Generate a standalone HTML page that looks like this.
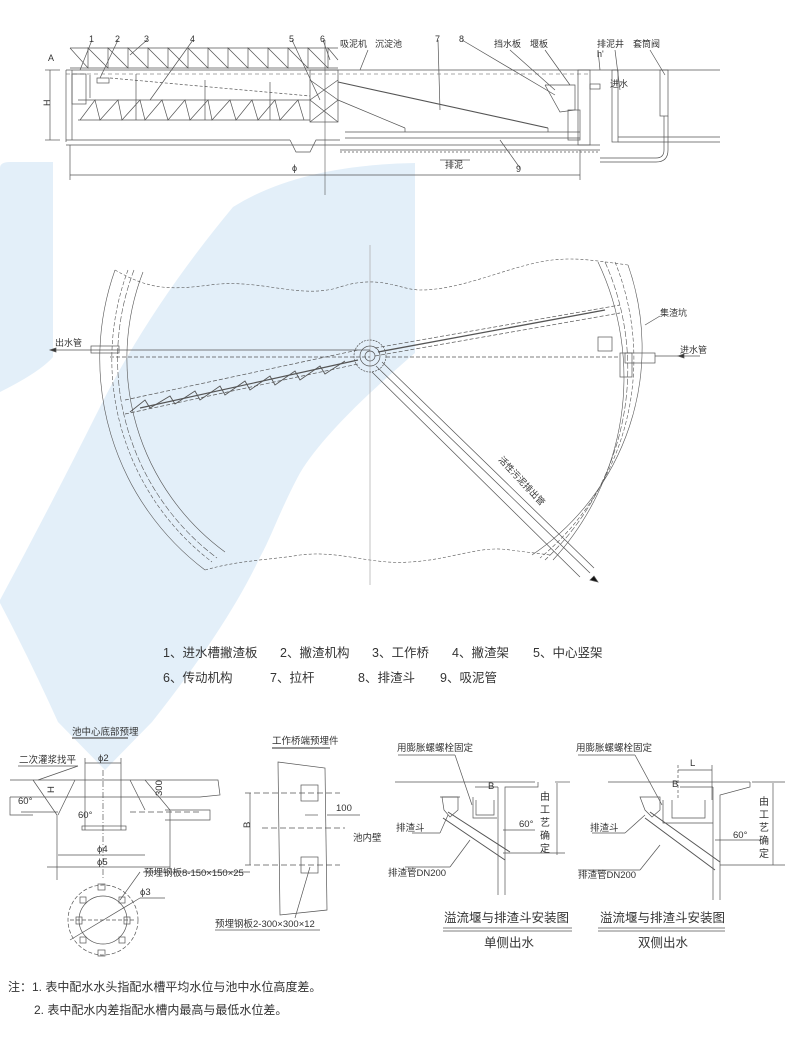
<!DOCTYPE html>
<html><head><meta charset="utf-8"><style>
html,body{margin:0;padding:0;background:#fff;}
svg{display:block;}
text{font-family:"Liberation Sans","Noto Sans CJK SC",sans-serif;fill:#333;}
</style></head><body>
<svg width="800" height="1039" viewBox="0 0 800 1039" xmlns="http://www.w3.org/2000/svg">
<!-- blue background shapes -->
<g fill="#e3eff9">
<path d="M0,168 Q0,162 10,162 L53,162 L53,357 Q40,372 0,392 Z"/>
<path d="M415,163 L415,353 C360,400 320,440 300,473 C280,510 270,540 260,557 C240,600 205,655 152,722 L105,770 L58,722 Q30,660 0,603 L0,600 Q50,507 100,407 Q150,307 233,207 Q300,165 415,163 Z"/>
</g>

<g stroke="#555" fill="none" stroke-width="0.7">
<!-- ===== TOP SECTION ===== -->
<line x1="70" y1="48" x2="338" y2="48"/>
<line x1="70" y1="68" x2="338" y2="68"/>
<path d="M70,48 L88,68 L88,48 L108,68 L108,48 L128,68 L128,48 L148,68 L148,48 L168,68 L168,48 L188,68 L188,48 L208,68 L208,48 L228,68 L228,48 L248,68 L248,48 L268,68 L268,48 L288,68 L288,48 L308,68 L308,48 L328,68 L328,48 L338,60"/>
<line x1="66" y1="70" x2="720" y2="70"/>
<line x1="66" y1="74" x2="590" y2="74" stroke-dasharray="4 3" stroke-width="0.5"/>
<line x1="72" y1="70" x2="72" y2="140"/>
<line x1="66" y1="70" x2="66" y2="142"/>
<line x1="66" y1="140" x2="290" y2="140"/>
<line x1="66" y1="145" x2="600" y2="145"/>
<path d="M290,140 L296,152 L310,152 L316,140 L340,140"/>
<line x1="340" y1="150" x2="600" y2="150"/>
<line x1="340" y1="152" x2="600" y2="152" stroke-dasharray="2 2"/>
<rect x="310" y="70" width="28" height="52"/>
<path d="M310,80 L338,100 L310,122 M338,80 L310,100 L338,122"/>
<line x1="78" y1="100" x2="310" y2="100"/>
<line x1="78" y1="120" x2="310" y2="120"/>
<path d="M80,120 L95,100 L100,120 L118,100 L122,120 L140,100 L145,120 L162,100 L168,120 L185,100 L190,120 L208,100 L212,120 L230,100 L236,120 L252,100 L258,120 L275,100 L280,120 L298,100 L304,120"/>
<line x1="110" y1="78" x2="310" y2="96" stroke-dasharray="3 2"/>
<line x1="90" y1="75" x2="90" y2="98"/>
<line x1="136" y1="74" x2="136" y2="120"/>
<line x1="205" y1="80" x2="205" y2="120"/>
<line x1="270" y1="82" x2="270" y2="120"/>
<rect x="72" y="74" width="14" height="30"/>
<rect x="97" y="78" width="12" height="5"/>
<line x1="338" y1="82" x2="548" y2="128" stroke-width="1.1"/>
<line x1="338" y1="100" x2="405" y2="128"/>
<line x1="345" y1="132" x2="580" y2="132"/>
<line x1="345" y1="138" x2="580" y2="138"/>
<line x1="405" y1="128" x2="405" y2="132"/>
<line x1="548" y1="128" x2="548" y2="132"/>
<rect x="578" y="70" width="12" height="75"/>
<path d="M545,85 L575,85 L575,110 L560,112 L545,85"/>
<rect x="568" y="110" width="12" height="30"/>
<rect x="590" y="84" width="10" height="5"/>
<rect x="612" y="70" width="6" height="72"/>
<line x1="618" y1="137" x2="720" y2="137"/>
<line x1="618" y1="142" x2="720" y2="142"/>
<rect x="660" y="70" width="8" height="46"/>
<path d="M664,116 L664,150 Q664,158 656,158 L600,158" />
<path d="M668,116 L668,150 Q668,162 656,162 L600,162"/>
<line x1="70" y1="175" x2="580" y2="175"/>
<line x1="70" y1="145" x2="70" y2="180"/>
<line x1="580" y1="150" x2="580" y2="180"/>
<line x1="325" y1="40" x2="325" y2="195" stroke-width="0.6"/>
<line x1="50" y1="70" x2="50" y2="140"/>
<line x1="45" y1="70" x2="60" y2="70"/>
<line x1="45" y1="140" x2="60" y2="140"/>
<line x1="440" y1="160" x2="470" y2="160"/>
<path d="M92,40 L80,70 M118,40 L100,78 M147,40 L130,55 M193,40 L150,100 M292,40 L320,100 M323,40 L330,60 M368,50 L360,70 M438,40 L440,110 M462,40 L555,95 M510,50 L555,90 M545,50 L570,85 M598,50 L600,70 M615,50 L620,90 M650,50 L665,75 M500,140 L520,168"/>

<!-- ===== PLAN VIEW ===== -->
<g stroke-width="0.6">
<path d="M115,270 A265,265 0 0,0 205,570" />
<path d="M128,270 A255,255 0 0,0 212,562" stroke-dasharray="4 2"/>
<path d="M134,270 A249,249 0 0,0 217,558" stroke-dasharray="6 2"/>
<path d="M143,272 A240,240 0 0,0 225,552"/>
<path d="M598,262 A270,270 0 0,1 553,560"/>
<path d="M605,262 A262,262 0 0,1 545,560" stroke-dasharray="6 2"/>
<path d="M615,262 A258,258 0 0,1 540,558" stroke-dasharray="4 2"/>
<path d="M628,265 A250,250 0 0,1 532,555"/>
<path d="M115,270 C150,290 170,290 210,285 C260,278 300,300 340,287 C380,274 400,290 420,290 C460,290 500,270 540,262 C570,256 590,260 628,265" stroke-dasharray="3 2"/>
<path d="M205,570 C240,560 270,560 300,555 C340,550 370,565 410,562 C450,560 480,545 510,550 L550,555" stroke-dasharray="3 2"/>
</g>
<line x1="370" y1="245" x2="370" y2="585" stroke="#aaa"/>
<circle cx="370" cy="356" r="16" stroke-dasharray="2 1"/>
<circle cx="370" cy="356" r="10"/>
<circle cx="370" cy="356" r="5"/>
<line x1="50" y1="350" x2="370" y2="350"/>
<line x1="110" y1="357" x2="370" y2="357" stroke-dasharray="4 2"/>
<rect x="91" y="346" width="28" height="7"/>
<path d="M50,350 l6,-2 l0,4 z" fill="#333"/>
<line x1="125" y1="400" x2="358" y2="350" stroke-dasharray="4 2"/>
<line x1="125" y1="414" x2="358" y2="364" stroke-dasharray="4 2"/>
<path d="M130,412 L145,400 L150,408 L170,396 L175,404 L195,391 L200,400 L220,386 L225,395 L245,381 L250,390 L270,376 L275,385 L295,371 L300,380 L320,366 L325,374 L345,361" stroke-width="0.9"/>
<line x1="140" y1="408" x2="358" y2="360" stroke-width="1.2"/>
<line x1="375" y1="348" x2="620" y2="305" stroke-dasharray="4 2"/>
<line x1="375" y1="356" x2="620" y2="313" stroke-dasharray="4 2"/>
<line x1="378" y1="352" x2="605" y2="310" stroke-width="1.3"/>
<line x1="386" y1="357" x2="620" y2="357" stroke-dasharray="4 2"/>
<rect x="598" y="337" width="14" height="14"/>
<rect x="625" y="353" width="30" height="10"/>
<rect x="620" y="353" width="12" height="24"/>
<line x1="655" y1="356" x2="700" y2="356"/>
<path d="M678,356 l6,-2 l0,4 z" fill="#333"/>
<path d="M645,325 L660,316"/>
<line x1="376" y1="366" x2="590" y2="573"/>
<line x1="382" y1="362" x2="594" y2="568"/>
<line x1="372" y1="372" x2="580" y2="577"/>
<path d="M598,582 l-8,-2 l4,-4 z" fill="#111"/>

<!-- ===== BOTTOM LEFT DETAIL ===== -->
<line x1="72" y1="738" x2="128" y2="738" stroke-width="1.2"/>
<line x1="18" y1="766" x2="78" y2="766"/>
<line x1="78" y1="766" x2="38" y2="780"/>
<path d="M10,780 L218,780 L220,795 L200,797 L10,797"/>
<path d="M10,797 L10,815 L33,815 M165,810 L210,810 L210,820 L165,820"/>
<path d="M33,780 L57,815 L57,880 M75,780 L58,815 M145,780 L170,810 L170,870 M130,780 L145,810"/>
<line x1="85" y1="763" x2="121" y2="763"/>
<line x1="85" y1="758" x2="85" y2="830"/>
<line x1="121" y1="758" x2="121" y2="830"/>
<line x1="103" y1="770" x2="103" y2="880" stroke-dasharray="6 2 1 2"/>
<rect x="82" y="826" width="44" height="4"/>
<line x1="58" y1="855" x2="145" y2="855"/>
<line x1="47" y1="867" x2="170" y2="867"/>
<line x1="21" y1="812" x2="58" y2="812"/>
<line x1="130" y1="812" x2="200" y2="812" stroke-dasharray="6 3"/>
<line x1="143" y1="872" x2="250" y2="872"/>
<line x1="140" y1="872" x2="120" y2="900"/>
<circle cx="103" cy="920" r="35" stroke-dasharray="4 2"/>
<circle cx="103" cy="920" r="24"/>
<line x1="70" y1="920" x2="136" y2="920" stroke-dasharray="4 2"/>
<line x1="70" y1="940" x2="140" y2="898"/>
<line x1="140" y1="898" x2="165" y2="898"/>
<g stroke-width="0.7"><rect x="98" y="884" width="7" height="6"/><rect x="98" y="950" width="7" height="6"/><rect x="76" y="917" width="6" height="7"/><rect x="124" y="917" width="6" height="7"/><rect x="80" y="897" width="6" height="6"/><rect x="119" y="897" width="6" height="6"/><rect x="80" y="937" width="6" height="6"/><rect x="119" y="937" width="6" height="6"/></g>

<line x1="272" y1="748" x2="330" y2="748" stroke-width="1.2"/>
<path d="M278,762 L325,768 L327,910 L280,915 Z"/>
<rect x="301" y="785" width="17" height="16"/>
<rect x="301" y="857" width="17" height="16"/>
<line x1="245" y1="793" x2="340" y2="793" stroke-dasharray="6 3"/>
<line x1="245" y1="865" x2="340" y2="865" stroke-dasharray="6 3"/>
<line x1="262" y1="828" x2="345" y2="828" stroke-dasharray="6 3"/>
<line x1="250" y1="793" x2="250" y2="865"/>
<line x1="305" y1="815" x2="318" y2="815"/>
<line x1="327" y1="815" x2="360" y2="815"/>
<line x1="310" y1="867" x2="295" y2="918"/>
<line x1="215" y1="930" x2="320" y2="930"/>

<line x1="398" y1="755" x2="455" y2="755"/>
<line x1="455" y1="755" x2="472" y2="805"/>
<line x1="395" y1="782" x2="535" y2="782"/>
<line x1="555" y1="782" x2="570" y2="782"/>
<path d="M538,782 L538,787 L505,787 L505,895 M498,787 L498,895 M498,787 L475,787"/>
<path d="M473,797 L473,818 L497,818 M476,800 L476,815 L494,815 L494,800"/>
<path d="M442,797 L458,797 L458,810 L450,817 L444,810 Z"/>
<line x1="440" y1="797" x2="460" y2="797"/>
<path d="M448,812 L510,852 M443,818 L505,860" stroke-width="1"/>
<line x1="557" y1="783" x2="557" y2="855"/>
<line x1="503" y1="853" x2="565" y2="853"/>
<line x1="503" y1="830" x2="535" y2="830"/>
<line x1="412" y1="833" x2="440" y2="833"/>
<line x1="440" y1="833" x2="448" y2="815"/>
<line x1="405" y1="867" x2="450" y2="867"/>
<line x1="450" y1="867" x2="470" y2="840"/>
<line x1="443" y1="928" x2="572" y2="928"/><line x1="443" y1="931" x2="572" y2="931"/>
<line x1="578" y1="755" x2="635" y2="755"/>
<line x1="635" y1="755" x2="662" y2="805"/>
<line x1="608" y1="782" x2="750" y2="782"/>
<line x1="752" y1="782" x2="785" y2="782"/>
<path d="M750,782 L750,787 L720,795 L720,900 M713,787 L713,900 M713,787 L680,787"/>
<path d="M663,800 L663,823 L713,823 M672,800 L672,818 L705,818 L705,800"/>
<path d="M640,797 L660,797 L660,810 L652,817 L645,810 Z"/>
<path d="M650,812 L720,862 M645,818 L715,870" stroke-width="1"/>
<line x1="678" y1="770" x2="712" y2="770"/>
<line x1="678" y1="765" x2="678" y2="800" stroke-dasharray="3 2"/>
<line x1="712" y1="765" x2="712" y2="800"/>
<line x1="773" y1="783" x2="773" y2="865"/>
<line x1="720" y1="865" x2="785" y2="865"/>
<line x1="715" y1="840" x2="760" y2="840"/>
<line x1="592" y1="833" x2="625" y2="833"/><line x1="625" y1="833" x2="645" y2="815"/>
<line x1="578" y1="870" x2="640" y2="870"/><line x1="640" y1="870" x2="660" y2="845"/>
<line x1="598" y1="928" x2="725" y2="928"/><line x1="598" y1="931" x2="725" y2="931"/>
</g>

<g font-size="9">
<text x="89" y="42">1</text><text x="115" y="42">2</text><text x="144" y="42">3</text><text x="190" y="42">4</text>
<text x="289" y="42">5</text><text x="320" y="42">6</text><text x="435" y="42">7</text><text x="459" y="42">8</text>
<text x="340" y="47">吸泥机</text><text x="375" y="47">沉淀池</text><text x="494" y="47">挡水板</text><text x="530" y="47">堰板</text>
<text x="597" y="47">排泥井</text><text x="633" y="47">套筒阀</text>
<text x="48" y="61">A</text><text x="597" y="57">h'</text><text x="610" y="87">进水</text>
<text x="292" y="171">ϕ</text><text x="445" y="168">排泥</text><text x="516" y="172">9</text>
<text x="46" y="110" transform="rotate(-90 46 106)">H</text>
<text x="55" y="346">出水管</text><text x="660" y="316">集渣坑</text><text x="680" y="353">进水管</text>
<text x="498" y="460" transform="rotate(47 498 460)">活性污泥排出管</text>
</g>
<g font-size="12.5">
<text x="163" y="657">1、进水槽撇渣板</text><text x="280" y="657">2、撇渣机构</text><text x="372" y="657">3、工作桥</text><text x="452" y="657">4、撇渣架</text><text x="533" y="657">5、中心竖架</text>
<text x="163" y="682">6、传动机构</text><text x="270" y="682">7、拉杆</text><text x="358" y="682">8、排渣斗</text><text x="440" y="682">9、吸泥管</text>
</g>
<g font-size="9.5">
<text x="72" y="735">池中心底部预埋</text>
<text x="19" y="763">二次灌浆找平</text>
<text x="98" y="761">ϕ2</text>
<text x="18" y="804">60°</text><text x="78" y="818">60°</text>
<text x="158" y="800" transform="rotate(-90 158 796)">300</text>
<text x="50" y="797" transform="rotate(-90 50 793)">H</text>
<text x="97" y="852">ϕ4</text><text x="97" y="865">ϕ5</text>
<text x="144" y="876">预埋钢板8-150×150×25</text>
<text x="140" y="895">ϕ3</text>
<text x="272" y="744">工作桥端预埋件</text>
<text x="336" y="811">100</text><text x="353" y="841">池内壁</text>
<text x="246" y="832" transform="rotate(-90 246 828)">B</text>
<text x="215" y="927">预埋钢板2-300×300×12</text>
<text x="397" y="751">用膨胀螺螺栓固定</text>
<text x="396" y="831">排渣斗</text>
<text x="388" y="876">排渣管DN200</text>
<text x="488" y="789">B</text><text x="519" y="827">60°</text>
<text x="576" y="751">用膨胀螺螺栓固定</text>
<text x="590" y="831">排渣斗</text>
<text x="578" y="878">排渣管DN200</text>
<text x="672" y="787">B</text><text x="690" y="766">L</text><text x="733" y="838">60°</text>
</g>
<g font-size="10">
<text x="540" y="800">由</text><text x="540" y="813">工</text><text x="540" y="826">艺</text><text x="540" y="839">确</text><text x="540" y="852">定</text>
<text x="759" y="805">由</text><text x="759" y="818">工</text><text x="759" y="831">艺</text><text x="759" y="844">确</text><text x="759" y="857">定</text>
</g>
<g font-size="12.5">
<text x="444" y="922">溢流堰与排渣斗安装图</text>
<text x="484" y="947">单侧出水</text>
<text x="600" y="922">溢流堰与排渣斗安装图</text>
<text x="638" y="947">双侧出水</text>
</g>
<g font-size="12">
<text x="8" y="991">注：1. 表中配水水头指配水槽平均水位与池中水位高度差。</text>
<text x="34" y="1014">2. 表中配水内差指配水槽内最高与最低水位差。</text>
</g>
</svg>
</body></html>
